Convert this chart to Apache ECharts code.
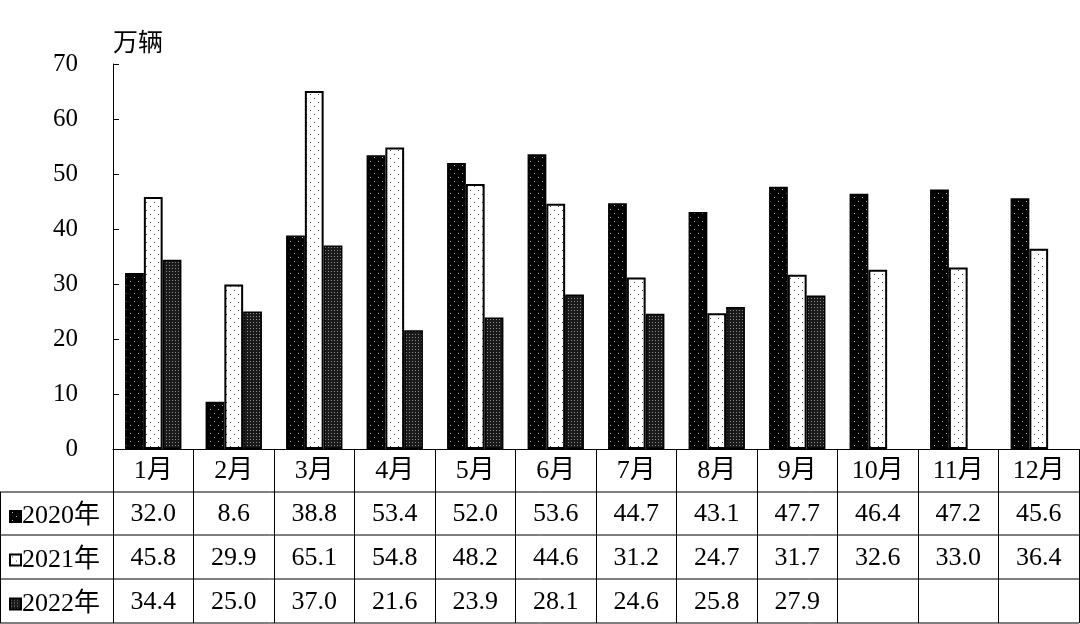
<!DOCTYPE html>
<html><head><meta charset="utf-8">
<script src="https://cdn.jsdelivr.net/npm/echarts@6/dist/echarts.min.js"></script>
<style>html,body{margin:0;padding:0;background:#fff}#c{width:1080px;height:624px}</style>
</head><body><div id="c"></div>
<script>
const months = ['1月','2月','3月','4月','5月','6月','7月','8月','9月','10月','11月','12月'];
const seriesNames = ['2020年','2021年','2022年'];
const v2020 = [32.0, 8.6, 38.8, 53.4, 52.0, 53.6, 44.7, 43.1, 47.7, 46.4, 47.2, 45.6];
const v2021 = [45.8, 29.9, 65.1, 54.8, 48.2, 44.6, 31.2, 24.7, 31.7, 32.6, 33.0, 36.4];
const v2022 = [34.4, 25.0, 37.0, 21.6, 23.9, 28.1, 24.6, 25.8, 27.9, null, null, null];
const yTicks = [0, 10, 20, 30, 40, 50, 60, 70];

function pattern(bg, dot, size, dots) {
  const c = document.createElement('canvas');
  c.width = size; c.height = size;
  const g = c.getContext('2d');
  g.fillStyle = bg; g.fillRect(0, 0, size, size);
  g.fillStyle = dot;
  dots.forEach(d => g.fillRect(d[0], d[1], 1, 1));
  return { image: c, repeat: 'repeat' };
}
const p2020 = pattern('#000', '#bbb', 8, [[2, 1], [6, 5]]);
const p2021 = pattern('#fff', '#444', 8, [[2, 2], [6, 6]]);
const p2022 = pattern('#1a1a1a', '#8a8a8a', 3, [[1, 1]]);

const FONT = '"Liberation Serif", "Noto Sans CJK SC", serif';
const fmt = v => (v === null || v === undefined) ? ' ' : v.toFixed(1);

const chart = echarts.init(document.getElementById('c'), null, { renderer: 'canvas' });
const tableLines = [492, 535, 579, 623].map(y => ({
  type: 'line', shape: { x1: 0, y1: y, x2: 1079, y2: y },
  style: { stroke: '#000', lineWidth: 1 }, silent: true
}));
tableLines.push({ type: 'line', shape: { x1: 0.5, y1: 492, x2: 0.5, y2: 623 }, style: { stroke: '#000', lineWidth: 1 }, silent: true });

const rowCenters = [513.5, 557, 601];
const legends = seriesNames.map((n, i) => ({
  orient: 'vertical', left: 4, top: rowCenters[i] - 15,
  icon: 'rect',
  itemWidth: 11, itemHeight: 11, itemGap: 0,
  textStyle: { fontFamily: FONT, fontSize: 26, color: '#000', padding: [0, 0, 0, -4] },
  data: [n]
}));

chart.setOption({
  animation: false,
  textStyle: { fontFamily: FONT, color: '#000' },
  grid: { left: 113, right: 1, top: 64, bottom: 175, containLabel: false },
  legend: legends,
  xAxis: {
    type: 'category', data: months,
    axisLine: { show: true, lineStyle: { color: '#000', width: 1 } },
    axisTick: { show: true, interval: 0, length: 174, inside: false, lineStyle: { color: '#000', width: 1 } },
    axisLabel: {
      interval: 0, margin: 0, fontFamily: FONT, fontSize: 26, color: '#000', lineHeight: 43.7,
      formatter: (val, i) => [val, fmt(v2020[i]), fmt(v2021[i]), fmt(v2022[i])].join('\n')
    },
    splitLine: { show: false }
  },
  yAxis: {
    type: 'value', min: 0, max: 70, interval: 10,
    name: '万辆', nameLocation: 'end', nameGap: 7,
    nameTextStyle: { fontFamily: FONT, fontSize: 25, color: '#000', align: 'left', padding: [0, 0, 0, 0] },
    axisLine: { show: true, lineStyle: { color: '#000', width: 1 } },
    axisTick: { show: true, inside: true, length: 6, lineStyle: { color: '#000' } },
    axisLabel: { margin: 35, fontFamily: FONT, fontSize: 25, color: '#000', formatter: v => yTicks.includes(v) ? String(v) : '' },
    splitLine: { show: false }
  },
  series: [
    { name: seriesNames[0], type: 'bar', data: v2020, barGap: '0%', barCategoryGap: '30%',
      itemStyle: { color: p2020, borderColor: '#000', borderWidth: 1.5 } },
    { name: seriesNames[1], type: 'bar', data: v2021, barGap: '0%', barCategoryGap: '30%',
      itemStyle: { color: p2021, borderColor: '#000', borderWidth: 2 } },
    { name: seriesNames[2], type: 'bar', data: v2022, barGap: '0%', barCategoryGap: '30%',
      itemStyle: { color: p2022, borderColor: '#000', borderWidth: 1.5 } }
  ],
  graphic: tableLines
});
</script></body></html>
